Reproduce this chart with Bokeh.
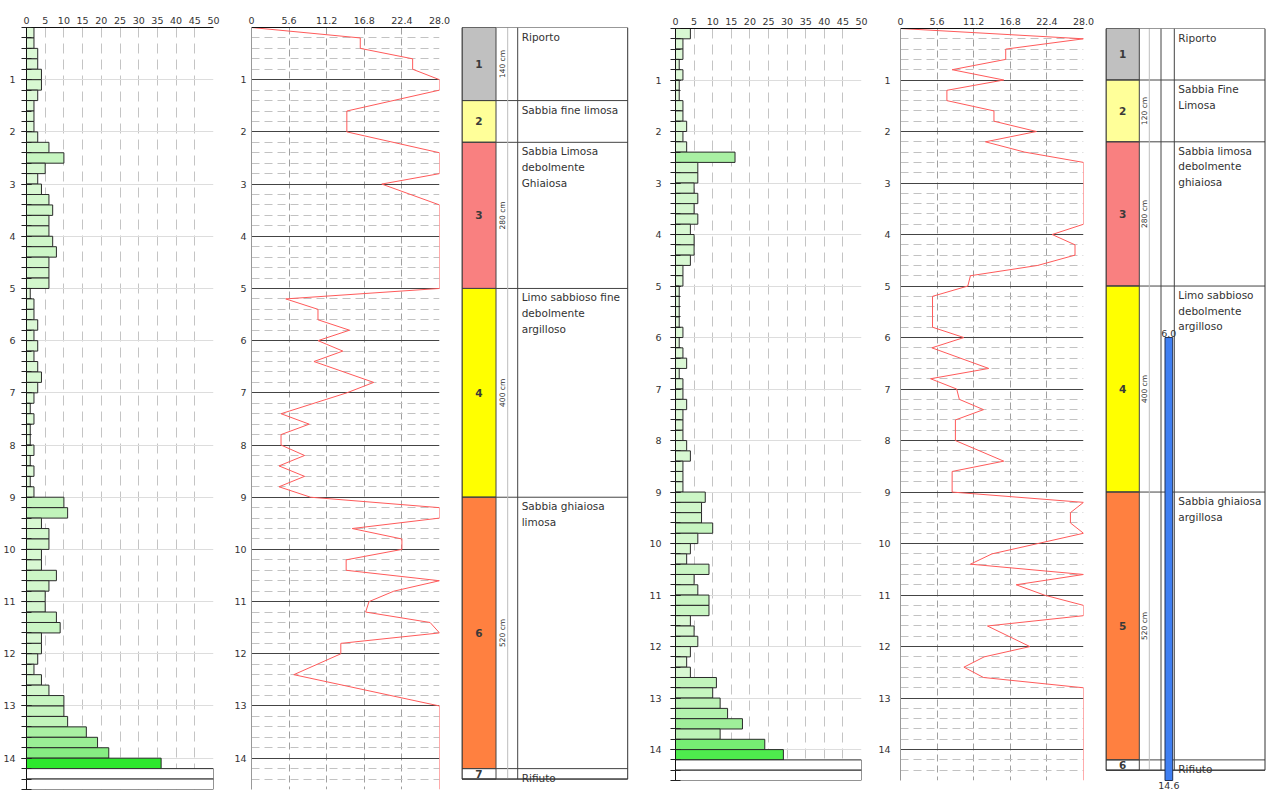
import numpy as np
from bokeh.plotting import figure
from bokeh.layouts import row
from bokeh.models import Range1d, FixedTicker, NumeralTickFormatter, ColumnDataSource
from bokeh.core.properties import value
from bokeh.embed import file_html
from bokeh.resources import INLINE

# ---------------- DATA ----------------
STEP = 0.2  # sampling interval (m)

# blow counts per 20 cm, sounding 1 (left), from 0.0 m
N_left = [2, 2, 3, 3, 4, 4, 3, 2, 2, 2,
          3, 6, 10, 5, 3, 4, 6, 7, 6, 6,
          7, 8, 6, 6, 6, 1, 2, 2, 3, 2,
          3, 2, 3, 4, 3, 2, 1, 2, 1, 1,
          2, 1, 2, 1, 2, 10, 11, 4, 6, 6,
          4, 4, 8, 6, 5, 5, 8, 9, 4, 4,
          3, 2, 4, 6, 10, 10, 11, 16, 19, 22,
          36]
refusal_left = [14.2, 14.4]

# blow counts per 20 cm, sounding 2 (right), from 0.0 m
N_right = [4, 2, 2, 1, 2, 1, 1, 2, 2, 3,
           2, 3, 16, 6, 6, 5, 6, 5, 6, 4,
           5, 5, 4, 2, 2, 1, 1, 1, 1, 2,
           1, 2, 3, 1, 2, 2, 3, 2, 2, 2,
           3, 4, 2, 2, 2, 8, 7, 7, 10, 6,
           4, 3, 9, 5, 6, 9, 9, 4, 5, 6,
           4, 3, 4, 11, 10, 12, 14, 18, 12, 24,
           29]
refusal_right = [14.2, 14.4]

# second diagram (0 - 28), vertices depth / value
depth_line_left = [0, 0.2, 0.4, 0.6, 0.8, 1.0, 1.2, 1.6, 2.0, 2.4, 2.8, 3.0, 3.4, 5.0,
                   5.2, 5.4, 5.6, 5.8, 6.0, 6.2, 6.4, 6.8, 7.0, 7.4, 7.6, 7.8, 8.0, 8.2,
                   8.4, 8.6, 8.8, 9.0, 9.2, 9.4, 9.6, 9.8, 10.0, 10.2, 10.4, 10.6, 10.8,
                   11.0, 11.2, 11.4, 11.6, 11.8, 12.0, 12.4, 13.0, 14.6]
val_line_left = [0, 16.2, 16.2, 24.0, 24.0, 28, 28, 14.2, 14.2, 28, 28, 19.4, 28, 28,
                 5.1, 9.9, 9.9, 14.6, 9.9, 13.6, 9.3, 18.2, 14.2, 4.4, 8.6, 4.4, 4.4, 7.9,
                 4.1, 7.9, 4.1, 8.8, 28, 28, 15.0, 22.4, 22.4, 14.1, 14.1, 28, 21.2,
                 17.5, 17.0, 26.6, 28, 13.3, 13.3, 6.3, 28, 28]

depth_line_right = [0, 0.2, 0.4, 0.6, 0.8, 1.0, 1.2, 1.4, 1.6, 1.8, 2.0, 2.2, 2.4, 2.6,
                    3.8, 4.0, 4.2, 4.4, 4.6, 4.8, 5.0, 5.2, 5.8, 6.0, 6.2, 6.6, 6.8, 7.0,
                    7.2, 7.4, 7.6, 8.0, 8.4, 8.6, 9.0, 9.2, 9.4, 9.6, 9.8, 10.2, 10.4,
                    10.6, 10.8, 11.0, 11.2, 11.4, 11.6, 12.0, 12.2, 12.4, 12.6, 12.8, 14.6]
val_line_right = [0, 28, 16.1, 16.1, 7.9, 15.8, 7.1, 7.1, 14.3, 14.3, 20.8, 13.0, 19.0, 28,
                  28, 23.2, 26.7, 26.7, 21.0, 10.7, 10.3, 4.9, 4.9, 9.7, 4.8, 13.5, 4.6, 8.6,
                  9.0, 12.7, 8.4, 8.4, 15.8, 7.9, 7.9, 28, 26.0, 26.0, 28, 14.0, 10.7,
                  28, 17.7, 22.0, 28, 28, 13.3, 19.8, 12.8, 9.7, 12.7, 28, 28]

# stratigraphy
layer_top_left = [0.0, 1.4, 2.2, 5.0, 9.0, 14.2]
layer_bot_left = [1.4, 2.2, 5.0, 9.0, 14.2, 14.4]
layer_id_left = ["1", "2", "3", "4", "6", "7"]
layer_desc_left = ["Riporto", "Sabbia fine limosa", "Sabbia Limosa\ndebolmente\nGhiaiosa",
                   "Limo sabbioso fine\ndebolmente\nargilloso", "Sabbia ghiaiosa\nlimosa", "Rifiuto"]
layer_thick_left = ["140 cm", "", "280 cm", "400 cm", "520 cm", ""]

layer_top_right = [0.0, 1.0, 2.2, 5.0, 9.0, 14.2]
layer_bot_right = [1.0, 2.2, 5.0, 9.0, 14.2, 14.4]
layer_id_right = ["1", "2", "3", "4", "5", "6"]
layer_desc_right = ["Riporto", "Sabbia Fine\nLimosa", "Sabbia limosa\ndebolmente\nghiaiosa",
                    "Limo sabbioso\ndebolmente\nargilloso", "Sabbia ghiaiosa\nargillosa", "Rifiuto"]
layer_thick_right = ["", "120 cm", "280 cm", "400 cm", "520 cm", ""]

piezo_top, piezo_bot = 6.0, 14.6

BAR_TICKS = [0, 5, 10, 15, 20, 25, 30, 35, 40, 45, 50]
LINE_TICKS = [0, 5.6, 11.2, 16.8, 22.4, 28]
DEPTH_LABELS = list(range(1, 15))
DEPTH_MAX = 14.6

# ---------------- STYLE ----------------
FONT = "DejaVu Sans"
LAYER_COLORS = ["#c0c0c0", "#ffff99", "#f98080", "#ffff00", "#ff8040", "#ffffff"]
H = 790


def n_color(v):
    a = [0, 10, 20, 30, 36]
    r = np.interp(v, a, [228, 198, 150, 70, 45])
    g = np.interp(v, a, [250, 245, 238, 236, 232])
    b = np.interp(v, a, [222, 192, 145, 70, 45])
    return "#%02x%02x%02x" % (int(r), int(g), int(b))


minor_all = [round(i * STEP, 1) for i in range(int(round(DEPTH_MAX / STEP)) + 1)]
minor_only = [m for m in minor_all if abs(m - round(m)) > 1e-6]


def base_fig(width, xr, yr, mbl, mbr, mbt, mbb):
    p = figure(width=width, height=H, x_range=xr, y_range=yr, output_backend="svg",
               toolbar_location=None, x_axis_location="above",
               min_border_left=mbl, min_border_right=mbr,
               min_border_top=mbt, min_border_bottom=mbb)
    p.frame_align = False
    p.outline_line_color = None
    p.background_fill_color = "white"
    p.border_fill_color = "white"
    return p


def style_top_axis(ax):
    ax.major_label_text_align = "left"
    ax.major_tick_out = 0
    ax.major_tick_in = 0
    ax.minor_tick_out = 0
    ax.minor_tick_in = 0
    ax.axis_line_color = "#111111"
    ax.major_label_standoff = 4
    ax.major_label_text_font = FONT
    ax.major_label_text_font_size = "9.5px"
    ax.major_label_text_color = "#333333"


def style_depth_axis(ya, standoff):
    ya.major_label_standoff = standoff
    ya.major_label_text_font = FONT
    ya.major_label_text_font_size = "9.5px"
    ya.major_label_text_color = "#333333"


def bar_panel(vals, refusal, width, mbl, mbr, mbt, mbb, standoff):
    p = base_fig(width, Range1d(0, BAR_TICKS[-1]), Range1d(DEPTH_MAX, 0), mbl, mbr, mbt, mbb)
    tops = [round(i * STEP, 1) for i in range(len(vals))]
    src = ColumnDataSource(dict(y=[t + STEP / 2 for t in tops], right=vals,
                                color=[n_color(v) for v in vals]))
    p.hbar(y="y", height=STEP, left=0, right="right", fill_color="color",
           line_color="#2a2a2a", line_width=1, source=src)
    p.hbar(y=[t + STEP / 2 for t in refusal], height=STEP, left=0, right=BAR_TICKS[-1],
           fill_color="white", line_color="#2a2a2a", line_width=1)
    style_top_axis(p.xaxis[0])
    p.xaxis.ticker = FixedTicker(ticks=BAR_TICKS)
    ya = p.yaxis[0]
    ya.ticker = FixedTicker(ticks=DEPTH_LABELS, minor_ticks=minor_all)
    ya.major_tick_in = 5
    ya.major_tick_out = 5
    ya.minor_tick_in = 5
    ya.minor_tick_out = 5
    ya.major_tick_line_color = "#222222"
    ya.minor_tick_line_color = "#222222"
    ya.axis_line_color = "#111111"
    style_depth_axis(ya, standoff)
    p.xgrid.ticker = FixedTicker(ticks=BAR_TICKS[1:])
    p.xgrid.grid_line_color = "#c4c4c4"
    p.xgrid.grid_line_dash = "10 6"
    p.ygrid.ticker = FixedTicker(ticks=DEPTH_LABELS)
    p.ygrid.grid_line_color = "#dddddd"
    return p


def line_panel(depths, vals, width, mbl, mbr, mbt, mbb, standoff):
    p = base_fig(width, Range1d(0, LINE_TICKS[-1]), Range1d(DEPTH_MAX, 0), mbl, mbr, mbt, mbb)
    style_top_axis(p.xaxis[0])
    p.xaxis.ticker = FixedTicker(ticks=LINE_TICKS)
    p.xaxis.formatter = NumeralTickFormatter(format="0.0")
    p.xaxis.major_label_overrides = {0: "0"}
    ya = p.yaxis[0]
    ya.ticker = FixedTicker(ticks=DEPTH_LABELS, minor_ticks=minor_only)
    ya.major_tick_in = 0
    ya.major_tick_out = 0
    ya.minor_tick_in = 0
    ya.minor_tick_out = 0
    ya.axis_line_color = "#999999"
    style_depth_axis(ya, standoff)
    p.xgrid.ticker = FixedTicker(ticks=LINE_TICKS[1:])
    p.xgrid.grid_line_color = "#a0a0a0"
    p.xgrid.grid_line_dash = "7 4"
    p.ygrid.ticker = FixedTicker(ticks=DEPTH_LABELS, minor_ticks=minor_only)
    p.ygrid.grid_line_color = "#444444"
    p.ygrid.minor_grid_line_color = "#c2c2c2"
    p.ygrid.minor_grid_line_dash = "8 5"
    p.line(x=vals, y=depths, line_color="#ff5a5a", line_width=1)
    return p


def strat_panel(tops, bots, ids, descs, thick, width, cols, mbt, mbb, ymax, piezo=None):
    p = base_fig(width, Range1d(-0.5, width - 0.5), Range1d(ymax, 0), 0, 0, mbt, mbb)
    p.axis.visible = False
    p.grid.visible = False
    right = cols["right"]
    mids = [(t + b) / 2 for t, b in zip(tops, bots)]
    p.quad(left=0, right=cols["color"], top=tops, bottom=bots, fill_color=LAYER_COLORS,
           line_color="#444444", line_width=1)
    p.segment(x0=0, x1=right, y0=bots, y1=bots, line_color="#444444", line_width=1)
    last = bots[-1]
    p.segment(x0=cols["light"], x1=cols["light"], y0=0, y1=last, line_color="#bdbdbd", line_width=1)
    for xl in cols["dark"]:
        p.segment(x0=xl, x1=xl, y0=0, y1=last, line_color="#444444", line_width=1)
    p.quad(left=0, right=right, top=0, bottom=last, fill_color=None,
           line_color="#333333", line_width=1)
    p.text(x=cols["color"] / 2, y=mids, text=ids, text_align="center", text_baseline="middle",
           text_font=value(FONT), text_font_size="10.5px", text_font_style="bold",
           text_color="#3a3a3a")
    p.text(x=cols["desc"] + 4, y=tops, text=descs, text_align="left", text_baseline="top",
           y_offset=3, text_font=value(FONT), text_font_size="10.5px", text_color="#333333",
           text_line_height=1.3)
    p.text(x=cols["thick"], y=mids, text=thick, angle=np.pi / 2, text_align="center",
           text_baseline="middle", text_font=value(FONT), text_font_size="7.5px",
           text_color="#333333")
    if piezo is not None:
        pt, pb = piezo
        x0, x1 = cols["piezo"]
        p.quad(left=x0, right=x1, top=pt, bottom=pb, fill_color="#3f7ff2",
               line_color="#223355", line_width=1)
        p.text(x=(x0 + x1) / 2, y=[pt], text=["%.1f" % pt], text_align="center",
               text_baseline="bottom", y_offset=-1, text_font=value(FONT),
               text_font_size="9.5px", text_color="#333333")
        p.text(x=(x0 + x1) / 2, y=[pb], text=["%.1f" % pb], text_align="center",
               text_baseline="top", y_offset=1, text_font=value(FONT),
               text_font_size="9.5px", text_color="#333333")
    return p


# left side frame: top 27, bottom 789 ; right side frame: top 28, bottom 780
L_T, L_B = 27, 1
R_T, R_B = 28, 10

f1 = bar_panel(N_left, refusal_left, 225, 26, 12, L_T, L_B, 6)
f2 = line_panel(depth_line_left, val_line_left, 236, 26, 22, L_T, L_B, 5)
cols_left = dict(color=34, thick=40, light=45.7, dark=[55.7], desc=55.7, right=165.7)
f3 = strat_panel(layer_top_left, layer_bot_left, layer_id_left, layer_desc_left,
                 layer_thick_left, 168, cols_left, L_T, L_B, DEPTH_MAX)

f4 = bar_panel(N_right, refusal_right, 246, 46, 14, R_T, R_B, 9)
f5 = line_panel(depth_line_right, val_line_right, 230, 23, 22, R_T, R_B, 10)
px_per_m = (H - R_T - R_B) / DEPTH_MAX
ymax_right = DEPTH_MAX + R_B / px_per_m
cols_right = dict(color=33.3, thick=38.3, light=43.3, dark=[55, 68.3], desc=68.3, right=159,
                  piezo=(59, 66.7))
f6 = strat_panel(layer_top_right, layer_bot_right, layer_id_right, layer_desc_right,
                 layer_thick_right, 161, cols_right, R_T, 0, ymax_right,
                 piezo=(piezo_top, piezo_bot))

layout = row(f1, f2, f3, f4, f5, f6, spacing=0)

open("out.html", "w").write(file_html(layout, INLINE))
